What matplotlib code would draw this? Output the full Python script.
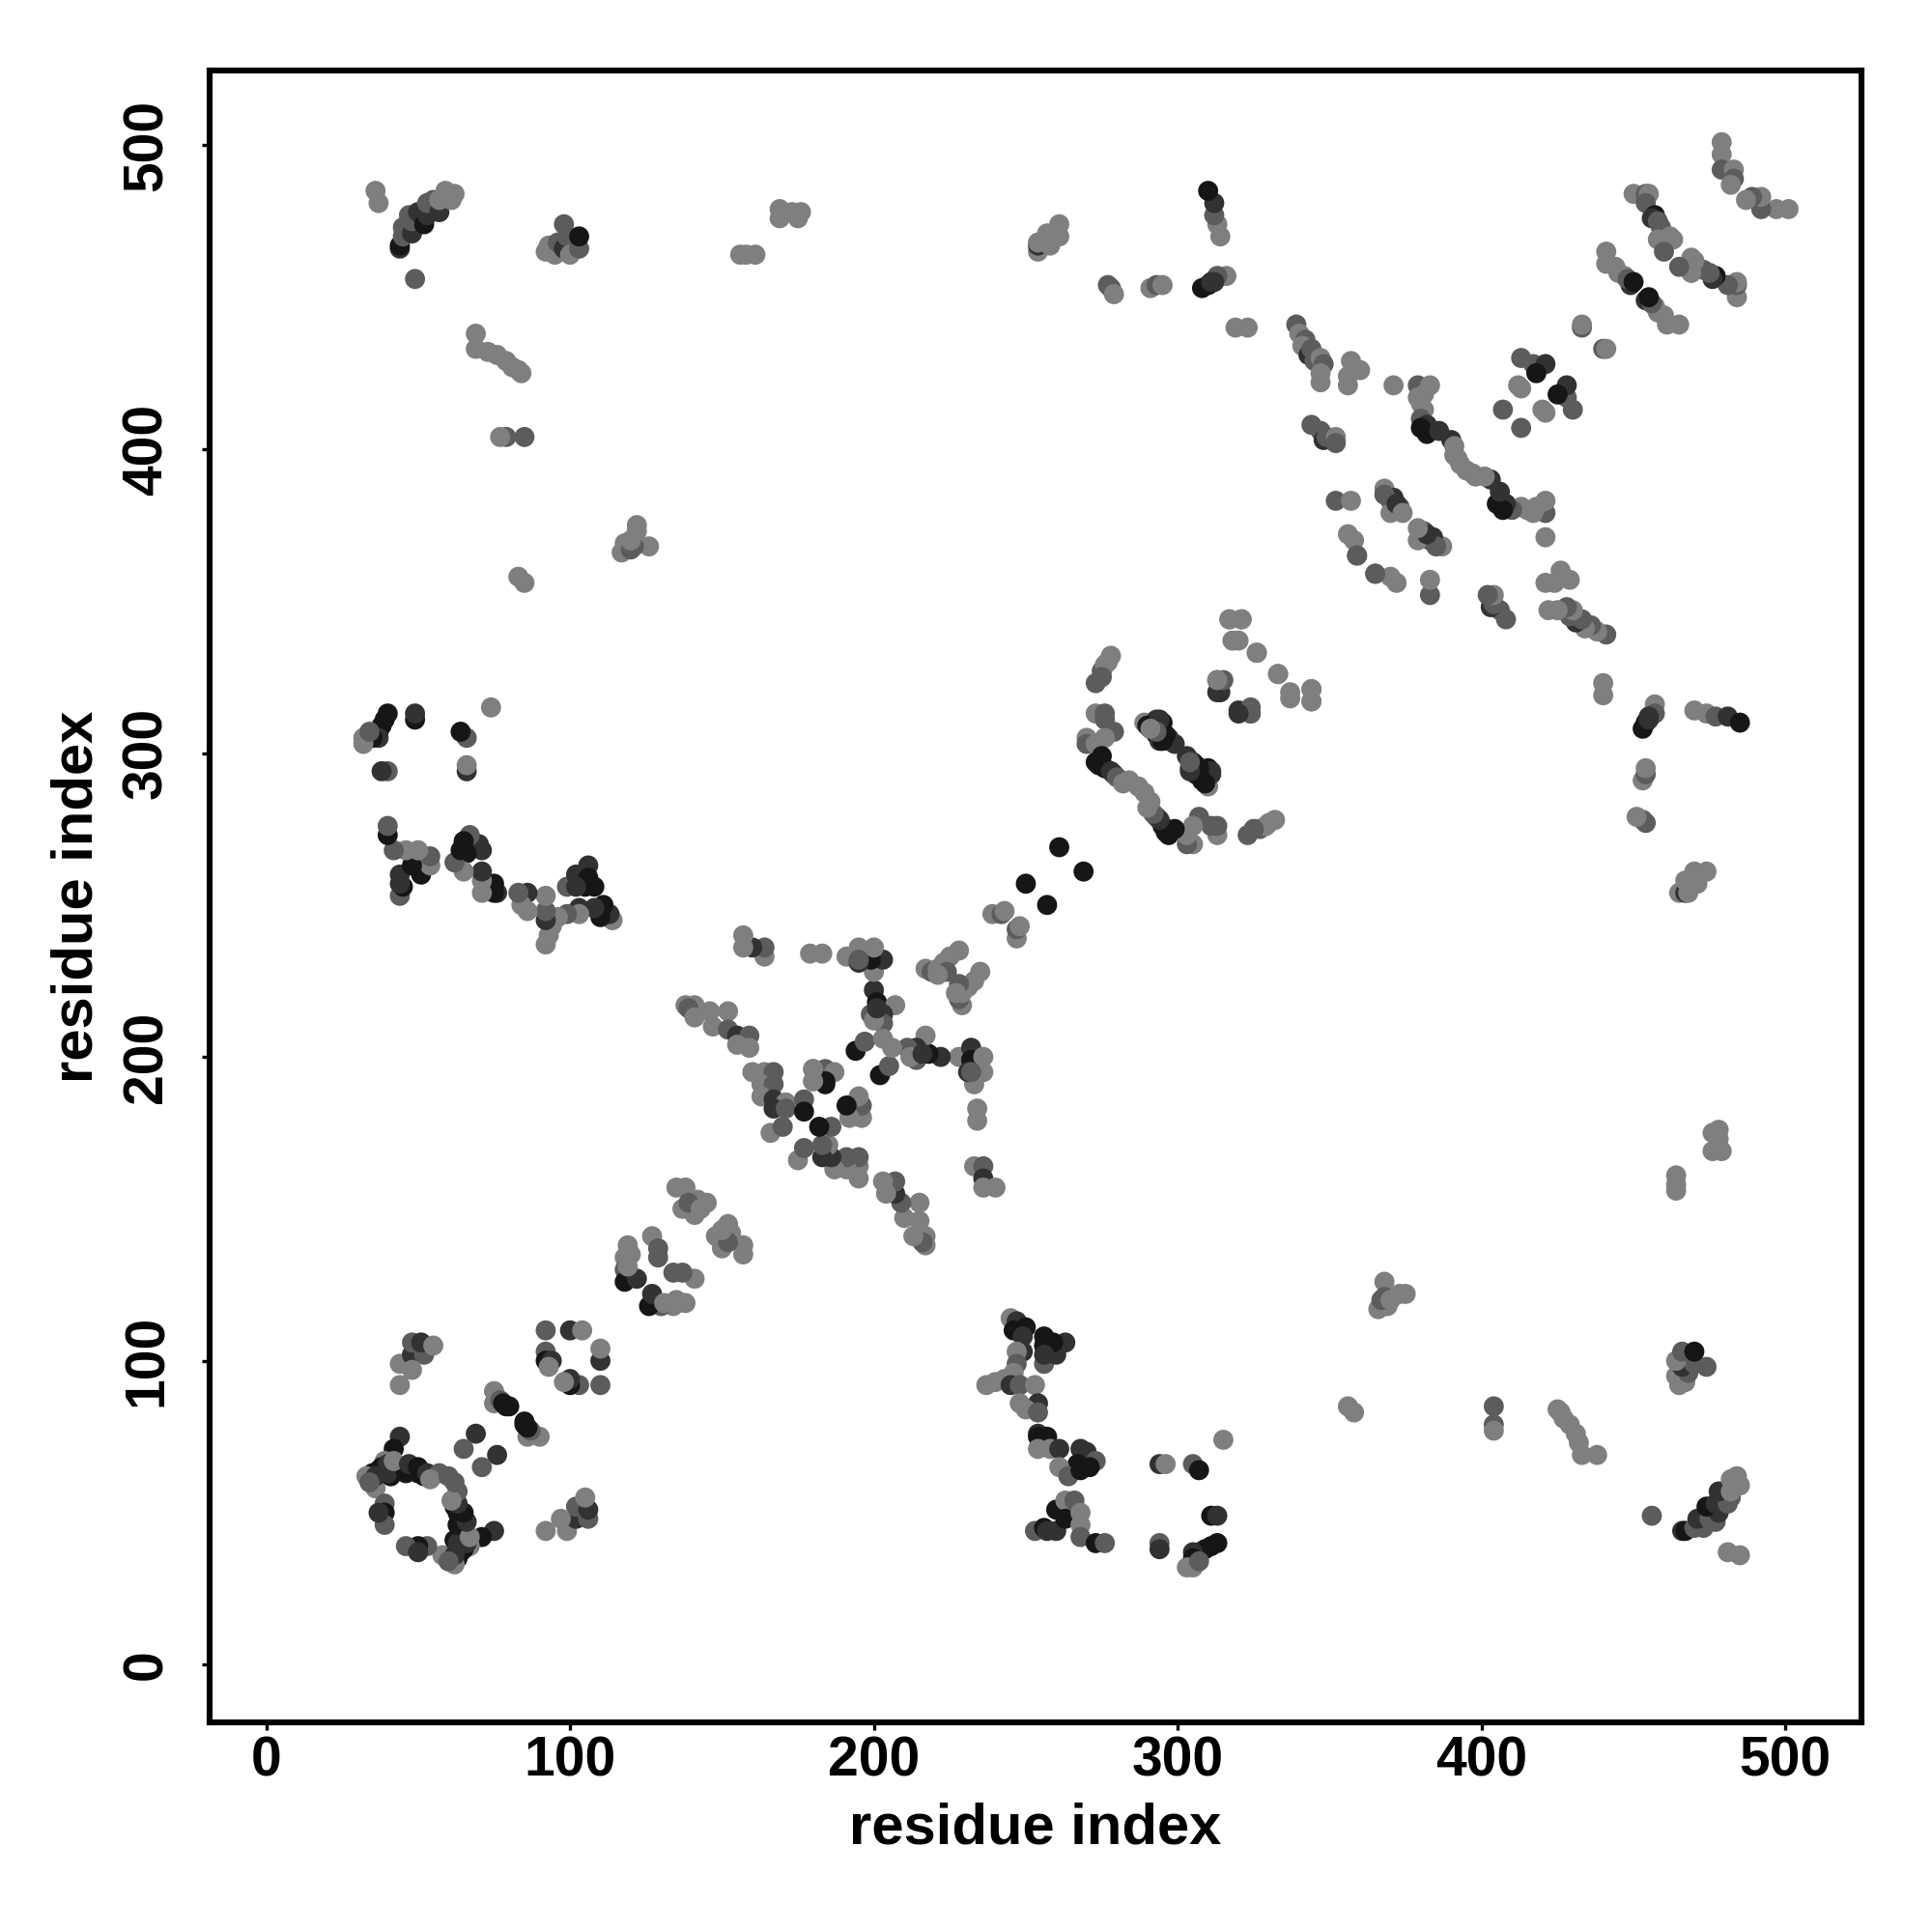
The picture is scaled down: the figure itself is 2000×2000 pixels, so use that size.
import numpy as np
import matplotlib
matplotlib.use("Agg")
import matplotlib.pyplot as plt

# contacts, one (i, j, score) per line group; map is symmetric
G, M, D, K = 0.15, 0.4, 0.7, 0.9

# low residue loop and neighbours
loop = [(44,75,D),(42,71,K),(39,67,G),(37,64,K),(35,63,K),(33,62,G),(36,58,G),(39,53,M),(39,50,K),(39,46,M),(37,50,D),
        (38,65,K),(40,66,D),(36,62,D),(34,60,M),(41,62,K),(40,63,D),(46,63,K),(47,64,K),(50,63,K),(52,62,K),
        (42,67,G),(47,66,D),(50,65,K),(53,63,D),(57,63,M),(54,61,G),(60,62,M),
        (69,76,D),(65,71,M),(75,90,G),(75,86,G),(77,87,M),(78,86,K),(79,85,K),(80,85,K),
        (92,110,M),(100,110,D),(104,110,G),(92,103,M),(92,100,K),(94,100,D),(93,98,G),
        (44,92,G),(44,99,G),(48,102,D),(52,102,M),(48,106,M),(51,106,D),(55,105,G),(48,97,G)]

hairpins = [(119,138,G),(118,134,G),(118,130,M),(118,126,K),(122,127,D),(127,141,G),(129,137,M),(129,134,M),(120,135,G),(119,131,G),
            (135,157,G),(138,157,G),(137,150,G),(141,148,G),(142,153,G),(145,152,G),(139,152,M),(143,150,G),
            (138,217,G),(141,217,G),(139,216,M),(141,213,G),(146,215,G),(147,210,G),(152,215,G),(152,209,M),(155,207,D),(159,207,M),(159,203,G),(155,204,G)]

centre = [(160,195,G),(164,195,G),(167,195,M),(163,191,G),(167,191,M),(163,187,G),(167,186,D),(171,185,G),(167,183,D),(171,183,M),(177,186,M),(177,182,K),
          (180,196,G),(184,196,M),(187,195,G),(180,192,G),(184,191,K),(192,184,K),(192,180,G),(196,180,G),(166,175,G),(170,177,M),
          (194,202,K),(197,205,M),(200,222,D),(201,218,K),(207,217,G),(203,214,D),(203,211,M),(199,214,M),(200,212,G),(201,216,D),(203,206,G),
          (228,200,G),(232,203,D),(232,199,K),(236,200,G),(236,195,G),(233,191,G),(231,195,D),(232,195,M),(234,183,G),(234,179,G),
          (233,164,G),(236,164,M),(236,160,D),(236,157,G),(240,157,G),
          (217,229,G),(219,228,M),(221,229,G),(223,231,G),(225,233,G),(228,235,G),(224,228,M),(221,227,G),
          (239,247,G),(242,247,M),(243,248,G),(250,257,K),(261,269,K)]

middle = [(278,332,G),(277,330,G),(275,327,M),(273,323,M),(276,329,G),(275,325,M),(273,313,G),(276,313,M),(276,311,M),
          (270,305,G),(270,303,M),(279,307,M),(276,305,G),(273,303,G),
          (273,297,K),(275,299,K),(274,296,K),(276,295,K),(278,294,D),(279,293,D),(280,292,M),(284,291,G),(282,290,G),(287,289,G),
          (289,310,G),(293,311,D),(293,309,D),(290,309,K),(291,308,K),(295,307,K),(293,306,K),(294,304,D),(297,304,M),
          (303,299,D),(305,297,D),(304,295,K),(306,296,K),(310,295,K),(311,294,D),(307,293,M),(308,291,G),
          (313,324,M),(313,320,D),(320,314,D),(324,315,M),(324,313,G),
          (317,344,G),(321,344,G),(318,337,G),(326,333,G),(333,326,G),(337,320,G),(344,321,G),(344,317,G)]

upper = [(254,465,G),(254,467,D),(254,468,G),(258,467,G),(257,471,G),(261,470,G),(261,474,G),(277,454,M),(278,453,M),(279,451,G),(291,453,G),(293,454,M),(295,454,G),(319,440,G),(323,440,G),
         (457,316,G),(457,313,M),(455,312,D),(453,308,K),(454,310,K),(455,311,D),(470,314,G),(474,313,G),(477,312,M),(481,312,D),(485,310,K),
         (339,441,M),(340,438,G),(342,436,M),(341,434,G),(343,431,D),(344,433,M),(345,429,M),(347,430,G),(348,428,M),(347,425,G),(347,422,G),(357,429,G),(360,426,G),(356,424,G),(356,421,G),
         (371,421,G),(379,421,M),(383,421,G),(379,417,G),(381,418,G),(380,415,G),(381,413,G),(380,410,M),(382,408,D),(380,407,K),(382,405,K),(386,406,D),(390,403,D),(391,401,G),(391,398,G),(395,393,G),(397,392,G),
         (344,408,M),(347,406,M),(348,403,D),(349,404,M),(352,404,G),(352,402,M),(352,383,M),(357,383,G),
         (368,387,G),(370,383,M),(373,381,M),(370,379,G),(371,384,D),(368,385,M),(372,382,D),(374,379,G),(356,372,G),(358,370,G),(359,365,M),(365,359,M),
         (407,413,M),(413,430,M),(417,428,M),(421,428,D),(418,425,K),(412,421,G),(420,413,G),(433,440,M),(433,441,G),
         (441,465,G),(441,461,G),(444,460,G),(445,458,G),(447,457,G),(449,454,D),(448,456,M),(450,455,K),
         (450,484,G),(454,484,M),(455,484,G),(454,481,M),(457,477,K),(456,476,D),(458,475,M),(459,473,M),(458,469,G),(463,469,G),(462,470,G),(460,465,M),
         (479,501,G),(479,497,G),(479,492,M),(483,492,G),(483,489,M),(482,487,G)]

far = [(36,485,G),(37,481,G),(44,466,D),(44,467,K),(45,470,M),(45,473,M),(48,471,D),(47,477,M),(48,475,M),(50,478,D),(52,474,K),(53,477,D),(53,481,M),(55,482,M),(57,478,D),(57,482,G),(59,485,G),(62,484,G),(61,482,G),(49,456,M),
       (92,465,G),(93,467,G),(95,464,G),(96,468,M),(98,466,D),(98,474,M),(99,470,M),(100,464,G),(103,466,M),(103,470,K),
       (156,464,G),(158,464,G),(161,464,G),(169,476,G),(169,479,G),(173,478,G),(175,476,G),(176,478,G),
       (69,438,G),(69,433,G),(73,432,G),(76,431,G),(79,429,G),(81,427,G),(83,426,G),(84,425,G),
       (245,114,G),(247,113,D),(250,111,K),(246,110,K),(249,108,D),(256,108,K),(256,105,K),(256,99,M),(260,102,D),(263,106,D),(259,106,K),(256,102,D),
       (249,103,D),(247,103,G),(247,99,M),(246,96,G),(237,92,G),(240,93,G),(243,94,G),(245,92,D),(248,92,M),(253,92,G),(254,86,D),(250,84,G),(248,86,G),(254,83,M),
       (254,76,D),(254,75,K),(257,75,K),(254,71,G),(258,71,G),(261,71,D),(268,71,D),(270,70,D),(273,67,M),(267,66,K),(261,65,G),(264,62,M),(268,64,K),(271,65,K),
       (294,66,D),(296,66,G),(305,66,M),(307,64,K),(315,74,G),
       (253,44,M),(256,45,K),(257,44,D),(260,51,K),(260,44,D),(263,54,G),(266,54,M),(263,48,K),(268,50,G),(268,46,G),(268,42,M),(273,40,K),(276,40,M),(294,40,M),(294,38,D),
       (311,49,K),(313,49,D),(313,40,K),(311,39,K),(309,38,K),(307,37,K),(305,37,D),(305,35,K),(305,32,G),(303,32,G),(307,34,M),
       (368,126,G),(368,121,M),(369,118,G),(366,117,G),(367,120,M),(373,122,G),(375,122,G),(370,120,G),(356,85,G),(358,83,G),(404,85,M),(404,79,M),(404,77,G)]

contacts = np.array(loop + hairpins + centre + middle + upper + far)
res_i = contacts[:, 0]
res_j = contacts[:, 1]
score = contacts[:, 2]

ticks = [0, 100, 200, 300, 400, 500]

fig = plt.figure(figsize=(10, 10), dpi=200)
plt.rcParams['font.family'] = ['Liberation Sans', 'DejaVu Sans']
ax = fig.add_axes([217/2000, 1-1783/2000, (1927-217)/2000, (1783-73)/2000])

# darker means higher score
shade = 0.58 - 0.55*score
xs = np.concatenate([res_i, res_j])
ys = np.concatenate([res_j, res_i])
cs = np.concatenate([shade, shade])
ax.scatter(xs, ys, c=[str(round(v, 3)) for v in cs], s=56, linewidths=0, zorder=2)

ax.set_xlim(-18.6, 525)
ax.set_ylim(-19, 524.6)
ax.set_xticks(ticks)
ax.set_yticks(ticks)
ax.tick_params(axis='both', length=3, width=1.2, labelsize=20.5)
ax.tick_params(axis='x', pad=2)
ax.tick_params(axis='y', pad=10.5)
for lab in ax.get_xticklabels() + ax.get_yticklabels():
    lab.set_fontweight('bold')
for lab in ax.get_yticklabels():
    lab.set_rotation(90)
    lab.set_va('center')
for sp in ax.spines.values():
    sp.set_linewidth(2.2)

ax.set_xlabel("residue index", fontsize=21.5, fontweight='bold')
ax.set_ylabel("residue index", fontsize=21.5, fontweight='bold')
ax.xaxis.set_label_coords(0.5, -0.0643)
ax.yaxis.set_label_coords(-0.08, 0.5)
ax.xaxis.label.set_va('center')
ax.yaxis.label.set_va('center')

fig.savefig("out.png", dpi=200)
